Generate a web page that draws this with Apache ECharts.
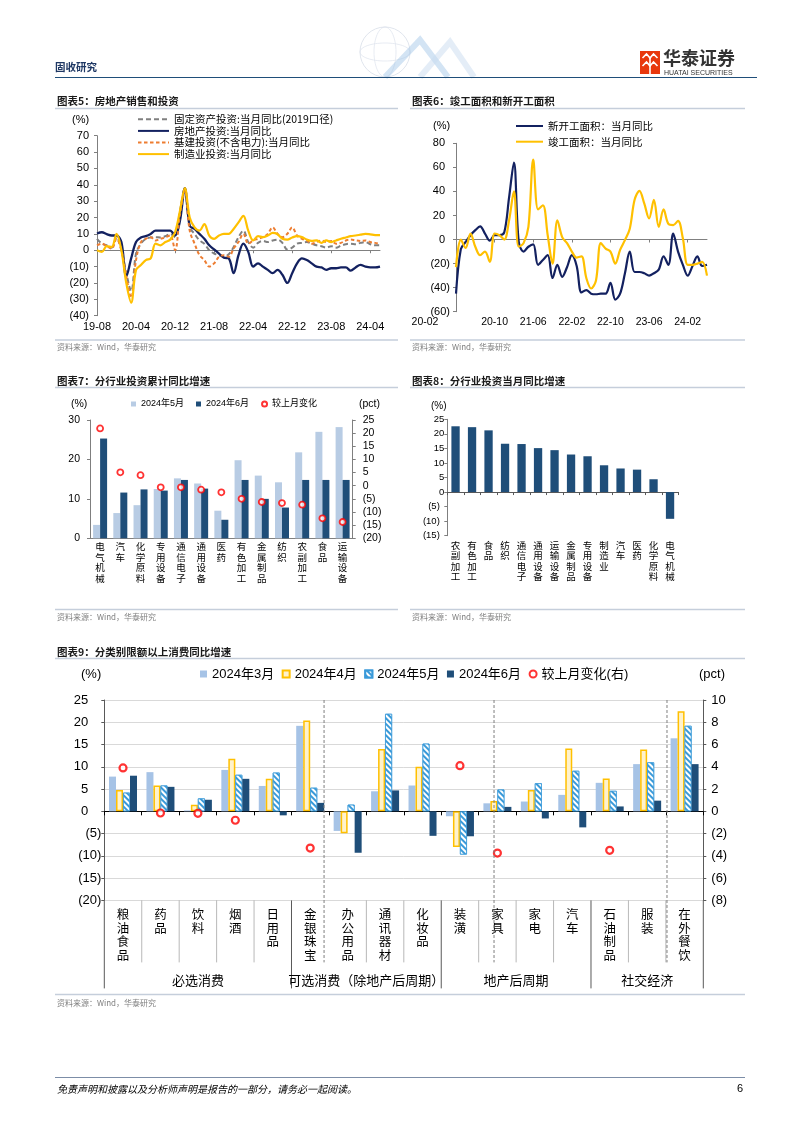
<!DOCTYPE html>
<html>
<head>
<meta charset="utf-8">
<title>固收研究</title>
<script src="https://cdn.jsdelivr.net/npm/echarts/dist/echarts.min.js"></script>
<style>
html,body{margin:0;padding:0;background:#fff;}
#page{width:802px;height:1133px;}
</style>
</head>
<body>
<div id="page"></div>
<script>
// ================= DATA =================
// Chart 5
const c5Names = ['固定资产投资:当月同比(2019口径)','房地产投资:当月同比','基建投资(不含电力):当月同比','制造业投资:当月同比'];
const c5Fai = [7,4,3,1.6,8, 0,-14,-25,-2,4, 7,7.8,8,7.8,8.6, 10,8,24,37.7,14, 10,6,4,0,-2, -3,-4,-2.4,2,8,
  12,5,1.6,4.5,5.7, 5,6,6.5,4.5,0.4, 1.6,4,4.5,5,4, 3,2.5,1.6,2.5,1.6, 2.8,3.7,4,3.7,4.5, 5,3.7,3,3];
const c5Re = [10.2,11,9.8,9,9, 5,-16,-5,5,7.8, 8.6,10,12,12,12, 12,9,18,38,15, 13,10,7,3,0.5, -2,-4.5,-5,-14,-3,
  4,-1,-10,-8,-10, -12,-14,-12,-15,-20, -14,-8,-5,-6,-8, -10,-10.5,-12,-11,-11, -10.5,-10.5,-12.5,-10.5,-9, -10,-10.5,-10.5,-10];
const c5Infra = [3,4,2.5,1,7, 0,-16,-29,-6,5, 7,8,6,7,7.8, 9,0,22,36.7,12, 4,-3,-6,-10,-8, -4,-3,-4,1,5,
  10,4,6,7,8, 10,14,10,8,10, 14,9,7,6,4, 5,6,5,5.7,4, 4.5,6,6.5,6,5.7, 6,5,4.5,3.7];
const c5Mfg = [0,-1,2.5,2,10, 0,-20,-32,-12,-9, -6,-5,4,3,5, 6.5,11,24,38,20, 14,12,16,9,7, 9,10,10,13,17,
  21,12,6,8.6,8, 9,10.6,9.8,7,6.5, 7.8,8.6,8,6.5,5.7, 6,4.5,6,5,6, 7,7.8,8.6,9,9.5, 10,9.7,9.3,9.3];
// Chart 6
const c6Names = ['新开工面积：当月同比','竣工面积：当月同比'];
const c6New = [-45,-8,-2,3.6,7.8, 11,5,-1,3.6,3.6, 6,35,64,-2,-10, -6,-4,-21,-17,-13, -32,-21,-31,-23,-13,
  -22,-44,-42,-45,-45.5, -45,-45,-36,-50,-45, -28,-10,-27,-27,-28, -30,-28,-25,-14,-21, 5,-10,-21,-30,-22, -14,-22,-21];
const c6Done = [-23,0,-7,5,-6, -13,-10,-18.5,5,3.6, 0,16,40,-6,-3, 10.5,66.5,25,28.5,3.6, -20,16,2,-3,-10,
  -15,-14,-32,-40.7,-34, -3,-7.5,-10,-20,-8.6, -0.5,9,33,40.5,30, 17.5,33,10.5,25,13, 12,15.5,1,-21,-21, -20,-18.5,-30];
// Chart 7
const c7Cats = ['电气机械','汽车','化学原料','专用设备','通信电子','通用设备','医药','有色加工','金属制品','纺织','农副加工','食品','运输设备'];
const c7May = [3.4,6.4,8.4,12.5,15.2,13.9,7.0,19.8,15.9,14.2,21.8,27.0,28.2];
const c7Jun = [25.3,11.6,12.4,12.1,14.8,12.6,4.7,14.8,10.0,7.8,14.8,14.8,14.8];
const c7Chg = [21.8,5.1,4.0,-0.6,-0.6,-1.5,-2.5,-5.0,-6.2,-6.6,-7.2,-12.4,-13.8];
// Chart 8
const c8Cats = ['农副加工','有色加工','食品','纺织','通信电子','通用设备','运输设备','金属制品','专用设备','制造业','汽车','医药','化学原料','电气机械'];
const c8Vals = [22.6,22.3,21.2,16.6,16.5,15.1,14.4,12.9,12.3,9.2,8.1,7.7,4.4,-9.2];
// Chart 9
const c9Cats = ['粮油食品','药品','饮料','烟酒','日用品','金银珠宝','办公用品','通讯器材','化妆品','装潢','家具','家电','汽车','石油制品','服装','在外餐饮'];
const c9Mar = [7.8,8.8,0.2,9.3,5.7,19.2,-4.4,4.5,5.8,-1.1,1.8,2.2,3.7,6.4,10.6,16.4];
const c9Apr = [4.8,5.8,1.5,11.8,7.3,20.4,-4.9,14.0,10.0,-8.0,2.3,4.8,14.1,7.4,13.9,22.5];
const c9May = [4.2,5.8,2.9,8.2,8.7,5.3,1.5,21.9,15.2,-9.7,4.9,6.3,9.1,4.6,11.0,19.2];
const c9Jun = [8.0,5.5,2.6,7.3,-0.9,1.9,-9.3,4.7,-5.5,-5.6,1.0,-1.6,-3.6,1.1,2.4,10.6];
const c9Chg = [3.9,-0.15,-0.18,-0.8,null,-3.3,null,null,null,4.1,-3.75,null,null,-3.5,null,null];
const c9Groups = ['必选消费','可选消费（除地产后周期）','地产后周期','社交经济'];
const c9GroupSizes = [5,4,4,3];
const c9DashPos = [5.87,10.41,15.03];   // dashed separators, in category units from the left edge
const c9NoSep = [6];                      // boundaries replaced by a dashed separator

// ================= HELPERS =================
const FONT = "'Liberation Sans','Noto Sans CJK SC',sans-serif";
const CJK = "'Noto Sans CJK SC','Liberation Sans',sans-serif";
function monthLabels(y, m, n){
  const out = [];
  for (let i = 0; i < n; i++){
    out.push(String(y % 100).padStart(2,'0') + '-' + String(m).padStart(2,'0'));
    m++; if (m > 12){ m = 1; y++; }
  }
  return out;
}
const c5Months = monthLabels(2019, 8, c5Fai.length);
const c6Months = monthLabels(2020, 2, c6New.length);
function vert(s){ return s.split('').join('\n'); }
function axisFmt(v){ return v < 0 ? '{n|(' + (-v) + ')}' : '{p|' + v + '}'; }
function richPad(fs, posPad, negPad){
  return {
    p:{fontSize:fs, fontFamily:FONT, color:'#000', padding:[0,posPad,0,0]},
    n:{fontSize:fs, fontFamily:FONT, color:'#000', padding:[0,negPad,0,0]}
  };
}
function yAx(o){
  const lc = o.lineColor || '#7F7F7F';
  return {
    type:'value', gridIndex:o.grid, min:o.min, max:o.max, interval:o.interval, position:o.pos || 'left',
    axisLine:{show:true, onZero:false, lineStyle:{color:lc, width:1}},
    axisTick:{show:true, length:3, inside:false, lineStyle:{color:lc}},
    splitLine:{show:!!o.split, lineStyle:{color:'#D9D9D9', width:1}},
    axisLabel:{fontSize:o.fs, color:'#000', fontFamily:FONT, margin:o.margin, formatter:axisFmt,
      rich:richPad(o.fs, o.posPad || 0, o.negPad || 0)}
  };
}
function xLab(o){
  return {
    type:'category', gridIndex:o.grid, data:o.data, boundaryGap:o.bg, position:'bottom',
    axisLine:{show:!!o.line, onZero:false, lineStyle:{color:'#808080', width:1}},
    axisTick:{show:false},
    splitLine:{show:false},
    axisLabel:Object.assign({show:true, interval:o.interval, fontSize:o.fs, color:'#000',
      fontFamily:o.font || FONT, margin:o.margin}, o.label || {})
  };
}
function xZero(o){
  const c = o.color || '#808080';
  return {
    type:'category', gridIndex:o.grid, data:o.data, boundaryGap:o.bg, position:'bottom',
    axisLine:{show:true, onZero:true, lineStyle:{color:c, width:1}},
    axisTick:{show:true, interval:o.tickInterval, length:o.tickLen || 3, lineStyle:{color:c}},
    axisLabel:{show:false}, splitLine:{show:false}
  };
}
const lineLegendItem = {color:'rgba(0,0,0,0)', borderColor:'rgba(0,0,0,0)', borderWidth:0};

// ================= OPTION =================
const option = {
  animation:false,
  backgroundColor:'#ffffff',
  textStyle:{fontFamily:FONT},
  grid:[
    {left:97, top:135.7, width:283, height:180, containLabel:false, outerBoundsMode:'none'},
    {left:456, top:143.3, width:251, height:168.4, containLabel:false, outerBoundsMode:'none'},
    {left:90, top:420, width:262.7, height:118.3, containLabel:false, outerBoundsMode:'none'},
    {left:447.3, top:419.3, width:231, height:116.4, containLabel:false, outerBoundsMode:'none'},
    {left:104.3, top:700, width:599, height:200.4, containLabel:false, outerBoundsMode:'none'}
  ],
  xAxis:[
    xLab({grid:0, data:c5Months, bg:false, interval:7, fs:11, margin:6}),                     //0
    xZero({grid:0, data:c5Months, bg:false, tickInterval:7}),                                //1
    xLab({grid:1, data:c6Months, bg:false, interval:7, fs:10.5, margin:5,
      label:{formatter:function(v, i){ return i === 0 ? '{f|' + v + '}' : v; },
             rich:{f:{fontSize:10.5, fontFamily:FONT, color:'#000', padding:[0,62,0,0]}}}}),  //2
    xZero({grid:1, data:c6Months, bg:false, tickInterval:7}),                                //3
    xLab({grid:2, data:c7Cats, bg:true, interval:0, fs:9.5, margin:3, line:true, font:CJK,
      label:{formatter:vert, lineHeight:10.6}}),                                              //4
    xLab({grid:3, data:c8Cats, bg:true, interval:0, fs:9.5, margin:4, font:CJK,
      label:{formatter:vert, lineHeight:10.6}}),                                              //5
    xZero({grid:3, data:c8Cats, bg:true, tickInterval:0, color:'#595959'}),                  //6
    xLab({grid:4, data:c9Cats, bg:true, interval:0, fs:12.5, margin:7, font:CJK,
      label:{formatter:vert, lineHeight:13.7}}),                                              //7
    xZero({grid:4, data:c9Cats, bg:true, tickInterval:0, tickLen:4, color:'#000000'})         //8
  ],
  yAxis:[
    yAx({grid:0, min:-40, max:70, interval:10, fs:11, margin:8}),                            //0
    yAx({grid:1, min:-60, max:80, interval:20, fs:11, margin:6, posPad:5}),                  //1
    yAx({grid:2, min:0, max:30, interval:10, fs:10.5, margin:10}),                           //2
    yAx({grid:2, min:-20, max:25, interval:5, fs:10.5, margin:10, pos:'right'}),             //3
    yAx({grid:3, min:-15, max:25, interval:5, fs:9.5, margin:3, negPad:4.5}),                //4
    yAx({grid:4, min:-20, max:25, interval:5, fs:13, margin:3, posPad:13, split:true, lineColor:'#595959'}), //5
    yAx({grid:4, min:-8, max:10, interval:2, fs:13, margin:8, pos:'right', lineColor:'#595959'})           //6
  ],
  legend:[
    {orient:'vertical', left:137, top:113.5, padding:0, itemWidth:31, itemHeight:10, itemGap:0, selectedMode:false,
     data:c5Names, itemStyle:lineLegendItem,
     textStyle:{fontSize:10.5, lineHeight:11.6, color:'#000', fontFamily:CJK}},
    {orient:'vertical', left:515, top:120.2, padding:0, itemWidth:27, itemHeight:10, itemGap:4.1, selectedMode:false,
     data:c6Names, itemStyle:lineLegendItem,
     textStyle:{fontSize:10.5, lineHeight:11.6, color:'#000', fontFamily:CJK}},
    {orient:'horizontal', left:131, top:398, padding:0, itemWidth:5, itemHeight:5, itemGap:12, selectedMode:false,
     data:[{name:'2024年5月', icon:'rect'},{name:'2024年6月', icon:'rect'},{name:'较上月变化', icon:'circle'}],
     textStyle:{fontSize:9, lineHeight:12, color:'#000', fontFamily:FONT}},
    {orient:'horizontal', left:200, top:666.5, padding:0, itemWidth:7, itemHeight:7, itemGap:7.5, selectedMode:false,
     data:[{name:'2024年3月 #9', icon:'rect'},{name:'2024年4月 #9', icon:'rect'},{name:'2024年5月 #9', icon:'rect'},
           {name:'2024年6月 #9', icon:'rect'},{name:'较上月变化(右)', icon:'circle'}],
     formatter:function(n){ return n.replace(' #9',''); },
     textStyle:{fontSize:13, lineHeight:15, color:'#000', fontFamily:FONT}}
  ],
  series:[
    // Chart 5
    {type:'line', name:c5Names[0], xAxisIndex:0, yAxisIndex:0, data:c5Fai, symbol:'none', smooth:0.35,
     lineStyle:{color:'#808080', width:2, type:[5,3]}, itemStyle:{color:'#808080'}},
    {type:'line', name:c5Names[1], xAxisIndex:0, yAxisIndex:0, data:c5Re, symbol:'none', smooth:0.35,
     lineStyle:{color:'#132160', width:2.3}, itemStyle:{color:'#132160'}},
    {type:'line', name:c5Names[2], xAxisIndex:0, yAxisIndex:0, data:c5Infra, symbol:'none', smooth:0.35,
     lineStyle:{color:'#ED7D31', width:2, type:[3.5,2.5]}, itemStyle:{color:'#ED7D31'}},
    {type:'line', name:c5Names[3], xAxisIndex:0, yAxisIndex:0, data:c5Mfg, symbol:'none', smooth:0.35,
     lineStyle:{color:'#FFC000', width:2.2}, itemStyle:{color:'#FFC000'}},
    // Chart 6
    {type:'line', name:c6Names[0], xAxisIndex:2, yAxisIndex:1, data:c6New, symbol:'none', smooth:0.35,
     lineStyle:{color:'#132160', width:2.2}, itemStyle:{color:'#132160'}},
    {type:'line', name:c6Names[1], xAxisIndex:2, yAxisIndex:1, data:c6Done, symbol:'none', smooth:0.35,
     lineStyle:{color:'#FFC000', width:2.2}, itemStyle:{color:'#FFC000'}},
    // Chart 7
    {type:'bar', name:'2024年5月', xAxisIndex:4, yAxisIndex:2, data:c7May, barWidth:7, barGap:'0%',
     itemStyle:{color:'#B8CCE4'}},
    {type:'bar', name:'2024年6月', xAxisIndex:4, yAxisIndex:2, data:c7Jun, barWidth:7, barGap:'0%',
     itemStyle:{color:'#1F4E79'}},
    {type:'scatter', name:'较上月变化', xAxisIndex:4, yAxisIndex:3, data:c7Chg, symbol:'circle', symbolSize:6,
     itemStyle:{color:'#ffffff', borderColor:'#FF0000', borderWidth:1.8}, z:5},
    // Chart 8
    {type:'bar', name:'当月同比', xAxisIndex:5, yAxisIndex:4, data:c8Vals, barWidth:8.3,
     itemStyle:{color:'#1F4E79'}},
    // Chart 9
    {type:'bar', name:'2024年3月 #9', xAxisIndex:7, yAxisIndex:5, data:c9Mar, barWidth:7, barGap:'0%',
     itemStyle:{color:'#A6C3E6'}},
    {type:'bar', name:'2024年4月 #9', xAxisIndex:7, yAxisIndex:5, data:c9Apr, barWidth:7, barGap:'0%',
     itemStyle:{color:'#FFF2CC', borderColor:'#FFC000', borderWidth:1.5}},
    {type:'bar', name:'2024年5月 #9', xAxisIndex:7, yAxisIndex:5, data:c9May, barWidth:7, barGap:'0%',
     itemStyle:{color:'#3A9AD9', borderColor:'#3A9AD9', borderWidth:0.8,
       decal:{symbol:'rect', symbolSize:1, color:'#ffffff', dashArrayX:[1,0], dashArrayY:[1.3,1.7], rotation:Math.PI/4}}},
    {type:'bar', name:'2024年6月 #9', xAxisIndex:7, yAxisIndex:5, data:c9Jun, barWidth:7, barGap:'0%',
     itemStyle:{color:'#1F4E79'}},
    {type:'scatter', name:'较上月变化(右)', xAxisIndex:7, yAxisIndex:6, data:c9Chg, symbol:'circle', symbolSize:7,
     itemStyle:{color:'#ffffff', borderColor:'#FF0000', borderWidth:2.2}, z:5}
  ]
};

const chart = echarts.init(document.getElementById('page'), null, {renderer:'canvas', width:802, height:1133});
chart.setOption(option);

// ================= STATIC TEXT & DECORATION =================
function gText(x, y, text, o){
  o = o || {};
  return {type:'text', x:x, y:y, silent:true, z:10, style:{text:text, fontSize:o.fs || 10,
    fontFamily:o.font || CJK, fontWeight:o.bold ? 'bold' : 'normal', fontStyle:o.italic ? 'italic' : 'normal',
    fill:o.color || '#000', align:o.align || 'left', verticalAlign:o.va || 'middle'}};
}
function gLine(x1, y1, x2, y2, o){
  o = o || {};
  return {type:'line', silent:true, z:o.z || 10, shape:{x1:x1, y1:y1, x2:x2, y2:y2},
    style:{stroke:o.color || '#C5CEDB', lineWidth:o.w || 1, lineDash:o.dash || null, opacity:o.op == null ? 1 : o.op}};
}
const G = [];
// header
G.push({type:'circle', silent:true, z:1, shape:{cx:385, cy:52, r:25}, style:{fill:'none', stroke:'#D8DEE8', lineWidth:0.8}});
G.push({type:'ellipse', silent:true, z:1, shape:{cx:385, cy:52, rx:11, ry:25}, style:{fill:'none', stroke:'#DDE3EC', lineWidth:0.7}});
G.push({type:'ellipse', silent:true, z:1, shape:{cx:385, cy:52, rx:25, ry:9}, style:{fill:'none', stroke:'#DDE3EC', lineWidth:0.7}});
G.push({type:'polyline', silent:true, z:1, shape:{points:[[385,77],[420,40],[448,77]]}, style:{fill:'none', stroke:'#9EC3E6', lineWidth:6, opacity:0.45}});
G.push({type:'polyline', silent:true, z:1, shape:{points:[[420,77],[450,42],[474,77]]}, style:{fill:'none', stroke:'#C9DCEF', lineWidth:6, opacity:0.5}});
G.push(gText(55, 67, '固收研究', {fs:10.5, bold:true, color:'#1F3864'}));
G.push(gLine(55, 77.5, 757, 77.5, {color:'#1F4E79', w:1.2}));
G.push({type:'rect', silent:true, z:10, shape:{x:640, y:51, width:20, height:23}, style:{fill:'#E8380D'}});
G.push({type:'polyline', silent:true, z:11, shape:{points:[[642.5,58],[646.5,54],[650,58],[653.5,54],[657.5,58]]}, style:{fill:'none', stroke:'#fff', lineWidth:1.6}});
G.push({type:'polyline', silent:true, z:11, shape:{points:[[642.5,66],[646.5,62],[650,66],[653.5,62],[657.5,66]]}, style:{fill:'none', stroke:'#fff', lineWidth:1.6}});
G.push(gLine(650, 58, 650, 74, {color:'#fff', w:1.6, z:11}));
G.push(gText(663, 58.5, '华泰证券', {fs:18, bold:true, color:'#333333'}));
G.push(gText(664, 72.8, 'HUATAI SECURITIES', {fs:7, font:FONT, color:'#333333'}));
// titles
const titles = [[57,101,'图表5：房地产销售和投资'],[412,101,'图表6：竣工面积和新开工面积'],
  [57,381,'图表7：分行业投资累计同比增速'],[412,381,'图表8：分行业投资当月同比增速'],[57,652,'图表9：分类别限额以上消费同比增速']];
titles.forEach(function(t){ G.push(gText(t[0], t[1], t[2], {fs:10.5, bold:true, color:'#1a1a1a'})); });
G.push(gLine(55,108.5,398,108.5,{w:1.5})); G.push(gLine(410,108.5,745,108.5,{w:1.5}));
G.push(gLine(55,387.5,398,387.5,{w:1.5})); G.push(gLine(410,387.5,745,387.5,{w:1.5}));
G.push(gLine(55,658.5,745,658.5,{w:1.5}));
// sources
G.push(gLine(55,340,398,340,{w:1.5})); G.push(gLine(410,340,745,340,{w:1.5}));
G.push(gLine(55,609.5,398,609.5,{w:1.5})); G.push(gLine(410,609.5,745,609.5,{w:1.5}));
G.push(gLine(55,994.5,745,994.5,{w:1.5}));
[[57,347],[412,347],[57,617],[412,617],[57,1003]].forEach(function(p){
  G.push(gText(p[0], p[1], '资料来源：Wind，华泰研究', {fs:8, color:'#7F7F7F'}));
});
// unit labels
G.push(gText(72,120,'(%)',{fs:11, font:FONT}));
G.push(gText(433,126,'(%)',{fs:11, font:FONT}));
G.push(gText(71,404,'(%)',{fs:10.5, font:FONT}));
G.push(gText(359,404,'(pct)',{fs:10.5, font:FONT}));
G.push(gText(431,406,'(%)',{fs:10, font:FONT}));
G.push(gText(81,674,'(%)',{fs:13, font:FONT}));
G.push(gText(699,674,'(pct)',{fs:13, font:FONT}));
// footer
G.push(gLine(55,1077.5,745,1077.5,{color:'#5B7090', w:0.8}));
G.push(gText(57,1089,'免责声明和披露以及分析师声明是报告的一部分，请务必一起阅读。',{fs:10, italic:true}));
G.push(gText(737,1089,'6',{fs:11, font:FONT}));

// Chart 9 table separators and group labels, positioned from the axis scale
const X9 = 7;
const p0 = chart.convertToPixel({xAxisIndex:X9}, 0);
const p1 = chart.convertToPixel({xAxisIndex:X9}, 1);
const cw = p1 - p0;
const x0 = p0 - cw / 2;
const yTop9 = chart.convertToPixel({yAxisIndex:5}, 25);
const yBot9 = chart.convertToPixel({yAxisIndex:5}, -20);
const gx = function(b){ return x0 + cw * b; };
const groupBounds = [0];
c9GroupSizes.forEach(function(s){ groupBounds.push(groupBounds[groupBounds.length - 1] + s); });
for (let b = 1; b < c9Cats.length; b++){
  if (groupBounds.indexOf(b) >= 0 || c9NoSep.indexOf(b) >= 0) continue;
  G.push(gLine(gx(b), yBot9, gx(b), yBot9 + 62, {color:'#A6A6A6', w:0.8}));
}
groupBounds.forEach(function(b){ G.push(gLine(gx(b), yBot9, gx(b), yBot9 + 88, {color:'#595959', w:1})); });
c9DashPos.forEach(function(b){ G.push(gLine(gx(b), yTop9, gx(b), yBot9 + 62, {color:'#7F7F7F', w:1, dash:[3,2]})); });
c9Groups.forEach(function(name, i){
  const cx = gx((groupBounds[i] + groupBounds[i + 1]) / 2);
  G.push(gText(cx, yBot9 + 79.6, name, {fs:13, align:'center'}));
});

chart.setOption({graphic:G});
</script>
</body>
</html>
